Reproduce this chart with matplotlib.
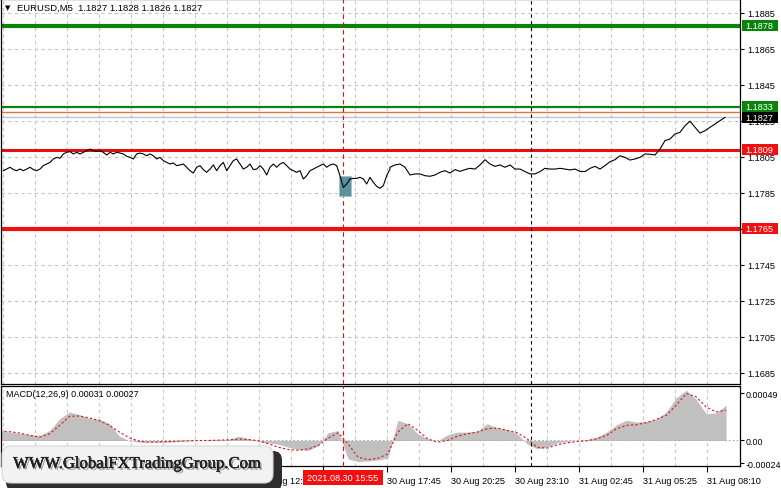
import numpy as np
import matplotlib
matplotlib.use("Agg")
import matplotlib.pyplot as plt
from matplotlib.patches import Rectangle, FancyBboxPatch
import matplotlib.patheffects as pe

plt.rcParams['font.family'] = ['Liberation Sans', 'DejaVu Sans']

# ---- data ----
close_a = [1.17974, 1.17983, 1.17993, 1.17980, 1.17974, 1.17983, 1.17974, 1.17983, 1.17993, 1.17980,
           1.17974, 1.17983, 1.18002, 1.18011, 1.18020, 1.18039, 1.18048, 1.18043, 1.18067, 1.18076,
           1.18080, 1.18067, 1.18076, 1.18067, 1.18076, 1.18085, 1.18094, 1.18085, 1.18081, 1.18085,
           1.18076, 1.18061, 1.18076, 1.18067, 1.18076, 1.18072, 1.18067, 1.18054, 1.18048, 1.18039,
           1.18067, 1.18072, 1.18067, 1.18057, 1.18067, 1.18057, 1.18039, 1.18048, 1.18030, 1.18020,
           1.18011, 1.18017, 1.18002, 1.18006, 1.18011, 1.17993, 1.17974, 1.17961, 1.17993, 1.18002,
           1.17980, 1.17965, 1.17983, 1.18006, 1.17974, 1.18002, 1.18020, 1.17974, 1.18002, 1.18030,
           1.18039, 1.18011, 1.17983, 1.17993, 1.18011, 1.17980, 1.17983, 1.18002, 1.17983, 1.17950,
           1.17993, 1.18011, 1.17993, 1.18011, 1.18020, 1.18002, 1.17983, 1.17974, 1.17965, 1.17974,
           1.17928, 1.17946, 1.17974, 1.17983, 1.17993, 1.18002, 1.18011, 1.17993, 1.18006, 1.18011,
           1.18002, 1.17946, 1.17881, 1.17900, 1.17928, 1.17931, 1.17931, 1.17937, 1.17928, 1.17900,
           1.17937, 1.17909, 1.17887, 1.17876, 1.17891, 1.17946, 1.17983]
close_b = [1.17993, 1.18006, 1.18011, 1.17993, 1.17950, 1.17956, 1.17956, 1.17946, 1.17943, 1.17950,
           1.17965, 1.17974, 1.17961, 1.17980, 1.17970, 1.17980, 1.17987, 1.17983, 1.18006, 1.18035,
           1.18011, 1.17998, 1.18006, 1.17993, 1.18006, 1.17983, 1.17983, 1.17969, 1.17956, 1.17956,
           1.17969, 1.17987, 1.17983, 1.17983, 1.17987, 1.17983, 1.17978, 1.17983, 1.17970, 1.17969,
           1.17987, 1.17998, 1.17983, 1.18002, 1.18024, 1.18035, 1.18057, 1.18048, 1.18033, 1.18039,
           1.18048, 1.18067, 1.18065, 1.18061, 1.18094, 1.18141, 1.18150, 1.18178, 1.18187, 1.18224,
           1.18249, 1.18215, 1.18183, 1.18196, 1.18215, 1.18233, 1.18252, 1.18270]

# MACD (units of 1e-5)
macd_hist = [9.8, 8.75, 7.35, 6.3, 5.25, 10.5, 22.75, 29.75, 26.95, 22.75,
             22.05, 17.5, 4.55, -0.35, -1.75, -1.75, -1.75, -1.75, -1.05, -0.35,
             0, 0.35, 0.7, 1.05, 4.55, 1.75, -1.05, -2.45, -3.85, -7.0,
             -9.45, -10.5, -5.25, 8.05, 10.5, -19.25, -22.05, -21.35, -20.3, -18.55,
             21.0, 17.5, 7.0, 1.75, -0.35, 5.95, 8.75, 8.75, 9.8, 17.5,
             12.95, 11.55, 7.0, -3.5, -8.75, -7.0, -2.45, -1.05, 0, 1.05,
             3.5, 8.75, 16.45, 21.0, 19.25, 19.95, 22.05, 29.75, 44.45, 52.5,
             43.05, 28.0, 28.7, 36.75]
macd_signal = [9.8, 9.1, 7.7, 5.25, 3.5, 7.0, 15.75, 25.2, 25.55, 23.45,
               20.65, 15.75, 8.75, 2.8, -0.7, -1.75, -1.4, -1.05, -0.7, -0.35,
               0, 0, 0.35, 0.7, 1.4, 1.05, -0.35, -3.5, -7.0, -9.45,
               -10.15, -8.75, -5.25, 2.45, 8.05, -3.5, -17.5, -19.95, -18.55, -14.0,
               8.75, 17.5, 10.5, 1.75, -1.75, 0, 4.55, 7.0, 8.75, 12.25,
               12.95, 10.5, 8.05, 1.75, -7.0, -8.05, -4.55, -2.45, -1.05, -0.35,
               1.75, 5.25, 12.25, 15.75, 16.45, 18.55, 22.05, 26.25, 36.75, 49.0,
               45.5, 35.0, 29.75, 31.5]

price_ticks = [1.1885, 1.1865, 1.1845, 1.1825, 1.1805, 1.1785, 1.1765, 1.1745, 1.1725, 1.1705, 1.1685]
levels = [(1.1878, '#0a830a', 3.0), (1.1833, '#0a830a', 1.6), (1.1830, '#d9773a', 1.0),
          (1.1827, '#cbb9d9', 1.0), (1.1809, '#e01010', 2.2), (1.1765, '#f01010', 3.0)]
level_tags = [(1.1878, '#0a830a'), (1.1833, '#0a830a'), (1.1827, '#000000'),
              (1.1809, '#f01010'), (1.1765, '#f01010')]
# labels hidden behind the watermark / cursor tag are left blank
time_ticks = [1.5, 33.5, 65.5, 97.5, 129.5, 161.5, 193.5, 225.5, 257.5, 289.5, 321.5, 353.5]
time_labels = ['', '', '', '', '30 Aug 12:25',
               '', '30 Aug 17:45', '30 Aug 20:25', '30 Aug 23:10', '31 Aug 02:45',
               '31 Aug 05:25', '31 Aug 08:10']
cursor_bar = 171.5
day_sep_bar = 265.5
candle_box = (169.5, 175.5, 1.17833, 1.17944)

# ---- layout ----
W, H = 781, 489
fig = plt.figure(figsize=(W / 100, H / 100), dpi=100)
fig.patch.set_facecolor('white')
ax = fig.add_axes([1 / W, 1 - 385 / H, 739 / W, 385 / H])
ax2 = fig.add_axes([1 / W, 1 - 467 / H, 739 / W, 80 / H])

grid_kw = dict(color='#c4c4c4', lw=0.8, ls=(0, (3, 3)), zorder=0)
vgrid = np.arange(1.5, 360, 16)

for a in (ax, ax2):
    a.set_xlim(0.5, 370)
    for v in vgrid:
        a.axvline(v, **grid_kw)
    a.axvline(cursor_bar, color='#e01010', lw=0.8, ls=(0, (4, 3)), zorder=3)
    a.axvline(day_sep_bar, color='black', lw=0.8, ls=(0, (3, 3)), zorder=3)
    for s in a.spines.values():
        s.set_color('black')
        s.set_linewidth(0.9)
    a.yaxis.tick_right()
    a.tick_params(axis='y', direction='out', length=3, pad=2, labelsize=6.6, colors='black')

# main panel
ax.set_ylim(1.1885 - 371 / 18000, 1.1885 + 14 / 18000)
for p in price_ticks:
    ax.axhline(p, **grid_kw)
ax.set_yticks(price_ticks)
ax.set_yticklabels(['' if p == 1.1765 else '%.4f' % p for p in price_ticks])
ax.set_xticks([])
for p, c, lw in levels:
    ax.axhline(p, color=c, lw=lw, zorder=2)

t_a = np.linspace(5 / 3, 195, len(close_a))
t_b = np.linspace(195, 362.5, len(close_b))
x0, x1, y0, y1 = candle_box
ax.add_patch(Rectangle((x0, y0), x1 - x0, y1 - y0, fc='#5b929b', ec='#9cc4c9', lw=0.6, zorder=4))
ax.plot(np.concatenate([t_a, t_b]), close_a + close_b, color='black', lw=0.8, zorder=5)

ytr = ax.get_yaxis_transform()
for p, c in level_tags:
    ax.add_patch(Rectangle((1 + 2 / 739, p - 5.5 / 18000), 36 / 739, 11 / 18000, fc=c, ec='none',
                           transform=ytr, clip_on=False, zorder=6))
    ax.text(1 + 5.5 / 739, p, '%.4f' % p, color='white', fontsize=6.6, va='center', ha='left',
            transform=ytr, clip_on=False, zorder=7)

# MACD panel
ax2.set_ylim(-0.000266, 0.000568)
hist = np.array(macd_hist) * 1e-5
sig = np.array(macd_signal) * 1e-5
t_m = np.linspace(0, 363, len(hist))
ax2.fill_between(t_m, 0, hist, color='#c0c0c0', lw=0, zorder=1)
ax2.plot(t_m, sig, color='#e01010', lw=0.8, ls=(0, (2, 2)), zorder=2)
ax2.axhline(0, color='#b0b0b0', lw=0.7, ls=(0, (2, 2)), zorder=1)
ax2.set_yticks([0.00049, 0.0, -0.000235])
ax2.set_yticklabels(['0.00049', '0.00', '-0.00024'])
ax2.tick_params(axis='y', pad=1, labelsize=6.4)
ax2.set_xticks(time_ticks)
ax2.set_xticklabels(time_labels, ha='left')
ax2.tick_params(axis='x', direction='out', length=4, pad=3, labelsize=6.6, colors='black')
ax2.text(5 / 739, 1 - 8 / 80, 'MACD(12,26,9) 0.00031 0.00027', transform=ax2.transAxes,
         fontsize=6.5, va='center', ha='left')

# overlay in pixel coordinates
ov = fig.add_axes([0, 0, 1, 1], zorder=10)
ov.set_xlim(0, W)
ov.set_ylim(H, 0)
ov.axis('off')
ov.text(5, 8, '\u25bc', fontsize=5, va='center', ha='left', family=['DejaVu Sans'])
ov.text(17, 8, 'EURUSD,M5  1.1827 1.1828 1.1826 1.1827', fontsize=6.8, va='center', ha='left')

ov.add_patch(Rectangle((303, 471), 80, 15, fc='#f01010', ec='none'))
ov.text(343, 478.5, '2021.08.30 15:55', color='white', fontsize=6.6, ha='center', va='center')

ov.add_patch(FancyBboxPatch((6, 452), 276, 40, boxstyle='round,pad=0,rounding_size=9',
                            fc='#2e2e2e', ec='none'))
ov.add_patch(FancyBboxPatch((2, 447), 271, 37, boxstyle='round,pad=0,rounding_size=9',
                            fc='#f2f2f2', ec='#d8d8d8', lw=0.8))
ov.text(137, 465, 'WWW.GlobalFXTradingGroup.Com', family=['Liberation Serif'], fontsize=12,
        color='#222222', ha='center', va='center',
        path_effects=[pe.withSimplePatchShadow(offset=(1.3, -1.3), shadow_rgbFace='#555555', alpha=0.6),
                      pe.Stroke(linewidth=0.25, foreground='#222222'), pe.Normal()])

fig.savefig('out.png', dpi=100)
